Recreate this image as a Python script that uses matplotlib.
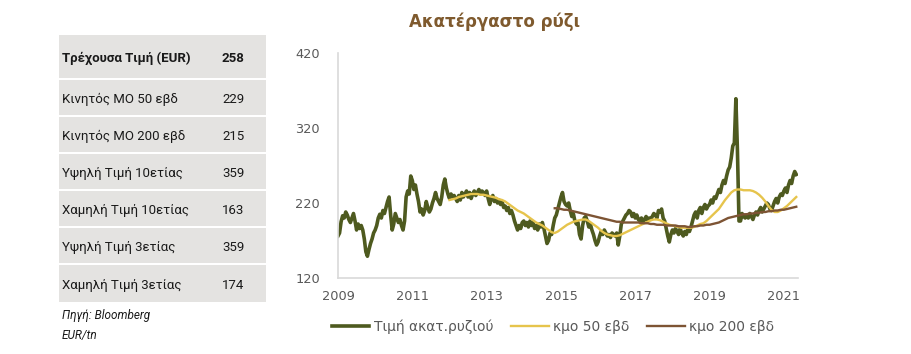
import numpy as np
import matplotlib.pyplot as plt
from matplotlib.patches import Rectangle

# table on the left
row_labels = ["Τρέχουσα Τιμή (EUR)", "Κινητός ΜΟ 50 εβδ", "Κινητός ΜΟ 200 εβδ",
              "Υψηλή Τιμή 10ετίας", "Χαμηλή Τιμή 10ετίας", "Υψηλή Τιμή 3ετίας",
              "Χαμηλή Τιμή 3ετίας"]
row_values = ["258", "229", "215", "359", "163", "359", "174"]

# price, twice a month from 2009
price_start = 2009.0
price = [
    176, 180, 195, 203, 200, 208, 204, 198, 194, 200, 206, 196, 184, 192, 186, 190, 184, 172, 155, 149, 158, 166, 172, 180,
    184, 190, 200, 205, 200, 210, 206, 214, 222, 228, 204, 184, 192, 206, 200, 194, 198, 190, 184, 196, 228, 236, 232, 256,
    250, 238, 244, 232, 222, 208, 212, 204, 210, 222, 214, 208, 212, 220, 226, 234, 226, 222, 218, 228, 244, 252, 240, 232,
    226, 232, 228, 230, 226, 222, 230, 224, 234, 228, 232, 236, 228, 234, 226, 232, 236, 230, 234, 238, 232, 236, 234, 230,
    236, 226, 218, 226, 230, 222, 226, 220, 224, 218, 222, 214, 216, 210, 214, 206, 210, 204, 196, 190, 184, 190, 186, 194,
    196, 190, 194, 188, 196, 190, 194, 186, 190, 184, 192, 188, 194, 186, 176, 166, 170, 180, 178, 190, 200, 204, 212, 220,
    228, 234, 222, 218, 216, 220, 210, 202, 206, 196, 192, 194, 178, 172, 190, 200, 202, 196, 188, 192, 184, 178, 170, 164,
    168, 176, 182, 178, 184, 180, 176, 178, 174, 180, 178, 176, 180, 164, 176, 192, 196, 200, 204, 206, 210, 208, 202, 206,
    200, 204, 198, 196, 200, 194, 198, 202, 196, 200, 198, 202, 206, 204, 200, 210, 208, 212, 200, 196, 186, 176, 168, 178,
    184, 180, 186, 182, 178, 186, 180, 176, 182, 178, 186, 182, 188, 196, 204, 208, 200, 210, 214, 206, 214, 218, 212, 216,
    218, 224, 220, 228, 226, 232, 238, 234, 244, 250, 246, 256, 264, 268, 280, 296, 300, 359, 290, 196, 196, 206, 202, 200,
    204, 200, 206, 202, 198, 204, 208, 204, 210, 214, 208, 212, 216, 220, 218, 212, 210, 216, 222, 226, 220, 228, 232, 230,
    236, 240, 234, 244, 250, 246, 256, 262, 258,
]

# 50-week moving average, monthly from 2012
ma50_start = 2012.0
ma50 = [
    224, 225, 226, 228, 229, 230, 231, 232, 232, 232, 231, 231,
    230, 229, 228, 227, 225, 224, 222, 219, 216, 213, 210, 208,
    206, 203, 200, 197, 194, 192, 190, 187, 184, 181, 180, 182,
    185, 188, 191, 193, 195, 196, 197, 198, 198, 196, 193, 190,
    187, 183, 180, 178, 177, 176, 176, 177, 179, 181, 183, 185,
    187, 189, 191, 193, 195, 197, 198, 198, 197, 195, 193, 191,
    190, 189, 188, 187, 187, 187, 187, 188, 190, 192, 193, 196,
    200, 204, 208, 212, 218, 224, 229, 234, 237, 238, 238, 237,
    237, 237, 236, 234, 231, 227, 222, 216, 211, 208, 208, 210,
    213, 216, 220, 224, 228,
]

# 200-week moving average, monthly from Nov 2014
ma200_start = 2014 + 10 / 12
ma200 = [
    213, 213,
    212, 211, 211, 210, 209, 208, 207, 206, 205, 204, 203, 202,
    201, 200, 199, 198, 197, 196, 195, 195, 194, 194, 194, 194,
    194, 194, 193, 193, 193, 192, 192, 191, 191, 191, 190, 190,
    190, 190, 189, 189, 189, 188, 188, 189, 189, 190, 190, 191,
    191, 192, 193, 194, 196, 198, 200, 201, 202, 203, 204, 205,
    205, 206, 206, 207, 207, 208, 208, 209, 209, 210, 210, 211,
    211, 212, 213, 214, 215,
]

series_names = ["Τιμή ακατ.ρυζιού", "κμο 50 εβδ", "κμο 200 εβδ"]
year_ticks = [2009, 2011, 2013, 2015, 2017, 2019, 2021]
value_ticks = [120, 220, 320, 420]

price_t = price_start + np.arange(len(price)) / 24
ma50_t = ma50_start + np.arange(len(ma50)) / 12
ma200_t = ma200_start + np.arange(len(ma200)) / 12

plt.rcParams['font.family'] = ['DejaVu Sans']
grey = "#595959"

fig = plt.figure(figsize=(9.12, 3.54), dpi=100)

# overlay in pixel coordinates for the table
bg = fig.add_axes([0, 0, 1, 1])
bg.set_xlim(0, 912)
bg.set_ylim(354, 0)
bg.axis("off")

row_tops = [35, 80, 117, 154, 191, 228, 265]
row_bottoms = [78, 115, 152, 189, 226, 263, 302]
for i, (lab, val) in enumerate(zip(row_labels, row_values)):
    top, bot = row_tops[i], row_bottoms[i]
    bg.add_patch(Rectangle((59, top), 207, bot - top, color="#e4e3e1", lw=0))
    weight = "bold" if i == 0 else "normal"
    yc = (top + bot) / 2 + 2
    bg.text(62, yc, lab, fontsize=9.5, fontweight=weight, color="#1a1a1a",
            va="center", ha="left", family=["Roboto", "DejaVu Sans"])
    bg.text(222, yc, val, fontsize=9.5, fontweight=weight, color="#1a1a1a",
            va="center", ha="left", family=["Roboto", "DejaVu Sans"])

bg.text(62, 315, "Πηγή: Bloomberg", fontsize=8.5, style="italic", color="#1a1a1a",
        va="center", ha="left", family=["Roboto", "DejaVu Sans"])
bg.text(62, 336, "EUR/tn", fontsize=8.5, style="italic", color="#1a1a1a",
        va="center", ha="left", family=["Roboto", "DejaVu Sans"])

bg.text(495, 22, "Ακατέργαστο ρύζι", fontsize=12, fontweight="bold",
        color="#7f5a2e", ha="center", va="center")

ax = fig.add_axes([338 / 912, 1 - 278 / 354, 460 / 912, 225 / 354])

ax.plot(price_t, price, color="#4e5a1f", linewidth=2.6, label=series_names[0])
ax.plot(ma50_t, ma50, color="#e6c44c", linewidth=1.7, label=series_names[1])
ax.plot(ma200_t, ma200, color="#7d5434", linewidth=1.7, label=series_names[2])

ax.set_xlim(2009.0, 2021.38)
ax.set_ylim(120, 420)
ax.set_xticks(year_ticks)
ax.set_yticks(value_ticks)
ax.tick_params(axis="both", length=0, labelsize=9.3, labelcolor=grey)
ax.tick_params(axis="y", pad=13)
ax.tick_params(axis="x", pad=9)
for side in ["top", "right"]:
    ax.spines[side].set_visible(False)
for side in ["left", "bottom"]:
    ax.spines[side].set_color("#d9d9d9")
    ax.spines[side].set_linewidth(1.2)

fig.legend(loc="center", bbox_to_anchor=(553 / 912, 1 - 327 / 354), ncol=3,
           frameon=False, fontsize=10, labelcolor=grey, handlelength=2.7,
           handletextpad=0.3, columnspacing=1.3)

fig.savefig("out.png", dpi=100)
